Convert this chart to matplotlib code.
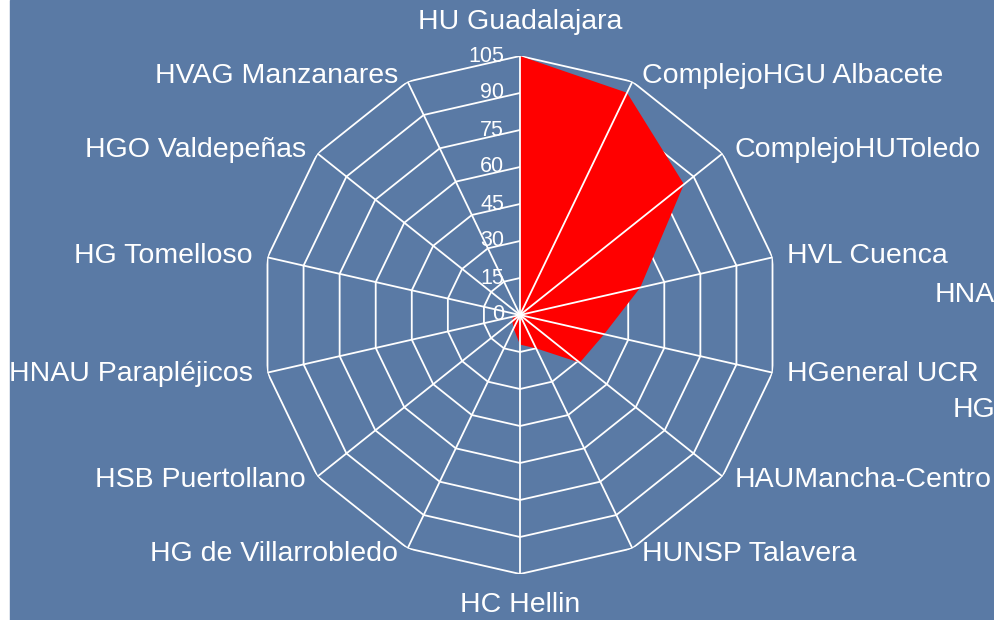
import numpy as np
import matplotlib
matplotlib.use('Agg')
import matplotlib.pyplot as plt
from matplotlib.patches import Rectangle

hospitals = ['HU Guadalajara', 'ComplejoHGU Albacete', 'ComplejoHUToledo',
             'HVL Cuenca', 'HGeneral UCR', 'HAUMancha-Centro', 'HUNSP Talavera',
             'HC Hellin', 'HG de Villarrobledo', 'HSB Puertollano',
             'HNAU Parapléjicos', 'HG Tomelloso', 'HGO Valdepeñas',
             'HVAG Manzanares']
values = [105, 100, 85, 50, 35, 31, 15, 12, 6, 4, 3, 0, 0, 0]
levels = [0, 15, 30, 45, 60, 75, 90, 105]
# labels of a neighbouring chart, cut off at the right edge
stray_labels = ['HNAU', 'HG']

plt.rcParams['font.family'] = ['Liberation Sans', 'DejaVu Sans']

bg = '#5a7aa5'
fig = plt.figure(figsize=(9.94, 6.2), dpi=100, facecolor='white')
fig.patches.append(Rectangle((10 / 994, 0), 1, 1, transform=fig.transFigure,
                             color=bg, zorder=-10))

cx, cy, rad = 520 / 994, 1 - 315 / 620, 259
ax = fig.add_axes([cx - rad / 994, cy - rad / 620, 2 * rad / 994, 2 * rad / 620],
                  projection='polar')
ax.set_facecolor('none')
ax.set_theta_zero_location('N')
ax.set_theta_direction(-1)
ax.set_ylim(0, levels[-1])
ax.grid(False)
ax.spines['polar'].set_visible(False)
ax.set_xticks([])
ax.set_yticks([])

n = len(hospitals)
theta = np.arange(n) * 2 * np.pi / n
closed = np.append(theta, theta[0])

# polygon rings
for lv in levels[1:]:
    ax.plot(closed, [lv] * (n + 1), color='white', lw=1.3, zorder=1)

ax.fill(closed, values + [values[0]], color='#ff0000', lw=0, zorder=2)

# spokes over the fill
for t in theta:
    ax.plot([t, t], [0, levels[-1]], color='white', lw=1.3, zorder=3)

for lv in levels:
    ax.annotate(str(lv), xy=(0, lv), xytext=(-16, 0), textcoords='offset pixels',
                ha='right', va='center', color='white', fontsize=15.5,
                annotation_clip=False)

for t, name in zip(theta, hospitals):
    s, c = np.sin(t), np.cos(t)
    if abs(s) < 0.1:
        ha, dx, dy = 'center', 0, (34 if c > 0 else -31)
    else:
        ha = 'left' if s > 0 else 'right'
        dx = np.sign(s) * (9 + 6 * abs(s) ** 3)
        dy = 6 * c
    ax.annotate(name, xy=(t, levels[-1]), xytext=(dx, dy),
                textcoords='offset pixels', ha=ha, va='center', color='white',
                fontsize=20.5, annotation_clip=False)

fig.text(935 / 994, 1 - 295 / 620, stray_labels[0], ha='left', va='center',
         color='white', fontsize=20.5)
fig.text(953 / 994, 1 - 410 / 620, stray_labels[1], ha='left', va='center',
         color='white', fontsize=20.5)

fig.savefig('out.png', dpi=100, facecolor=fig.get_facecolor())
